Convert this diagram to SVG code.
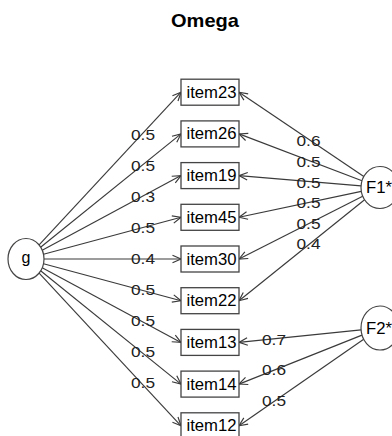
<svg xmlns="http://www.w3.org/2000/svg" width="392" height="436" viewBox="0 0 392 436">
<style>
.bg{fill:#fff}
.box{fill:#fff;stroke:#444;stroke-width:1.3}
.lat{fill:#fff;stroke:#444;stroke-width:1.2}
.edge{stroke:#3a3a3a;stroke-width:1.15;fill:none;marker-end:url(#arr)}
.t{font-family:"Liberation Sans",Arial,sans-serif;font-size:16px;fill:#000;text-anchor:middle}
.lab{font-family:"Liberation Sans",Arial,sans-serif;font-size:15px;fill:#222;text-anchor:middle}
.title{font-family:"Liberation Sans",Arial,sans-serif;font-size:18.5px;font-weight:bold;fill:#000;text-anchor:middle}
</style>
<defs>
<marker id="arr" viewBox="-10 -5 12 10" refX="0" refY="0" markerWidth="12" markerHeight="10" markerUnits="userSpaceOnUse" orient="auto">
<path d="M-8.5,-3.8 L0,0 L-8.5,3.8" fill="none" stroke="#3a3a3a" stroke-width="1.15"/>
</marker>
</defs>
<rect class="bg" x="0" y="0" width="392" height="436"/>
<text class="title" x="205" y="26.7" textLength="68" lengthAdjust="spacingAndGlyphs">Omega</text>
<g id="connectors">
<path class="edge" d="M38.9,245.1 L181,92.2"/>
<path class="edge" d="M40.6,247.2 L181,133.9"/>
<path class="edge" d="M42.2,250.3 L181,175.6"/>
<path class="edge" d="M43.5,254.3 L181,217.3"/>
<path class="edge" d="M44,259 L181,259"/>
<path class="edge" d="M43.5,263.7 L181,300.7"/>
<path class="edge" d="M42.2,267.7 L181,342.4"/>
<path class="edge" d="M40.6,270.8 L181,384.1"/>
<path class="edge" d="M38.9,272.9 L181,425.8"/>
<path class="edge" d="M363.8,176.5 L239,92.2"/>
<path class="edge" d="M362,180.7 L239,133.9"/>
<path class="edge" d="M361,185.9 L239,175.6"/>
<path class="edge" d="M361.3,191.4 L239,217.3"/>
<path class="edge" d="M362.7,196.3 L239,259"/>
<path class="edge" d="M364.6,199.8 L239,300.7"/>
<path class="edge" d="M361.1,329.9 L239,342.4"/>
<path class="edge" d="M362,335.1 L239,384.1"/>
<path class="edge" d="M363.7,339.3 L239,425.8"/>
<g id="edge-labels">
<text class="lab" x="143" y="140.2" textLength="24" lengthAdjust="spacingAndGlyphs">0.5</text>
<text class="lab" x="143" y="171.2" textLength="24" lengthAdjust="spacingAndGlyphs">0.5</text>
<text class="lab" x="143" y="202.2" textLength="24" lengthAdjust="spacingAndGlyphs">0.3</text>
<text class="lab" x="143" y="233.2" textLength="24" lengthAdjust="spacingAndGlyphs">0.5</text>
<text class="lab" x="143" y="264.2" textLength="24" lengthAdjust="spacingAndGlyphs">0.4</text>
<text class="lab" x="143" y="295.2" textLength="24" lengthAdjust="spacingAndGlyphs">0.5</text>
<text class="lab" x="143" y="326.2" textLength="24" lengthAdjust="spacingAndGlyphs">0.5</text>
<text class="lab" x="143" y="357.2" textLength="24" lengthAdjust="spacingAndGlyphs">0.5</text>
<text class="lab" x="143" y="388.2" textLength="24" lengthAdjust="spacingAndGlyphs">0.5</text>
<text class="lab" x="308.5" y="145.7" textLength="24" lengthAdjust="spacingAndGlyphs">0.6</text>
<text class="lab" x="308.5" y="166.7" textLength="24" lengthAdjust="spacingAndGlyphs">0.5</text>
<text class="lab" x="308.5" y="187.7" textLength="24" lengthAdjust="spacingAndGlyphs">0.5</text>
<text class="lab" x="308.5" y="208.2" textLength="24" lengthAdjust="spacingAndGlyphs">0.5</text>
<text class="lab" x="308.5" y="228.7" textLength="24" lengthAdjust="spacingAndGlyphs">0.5</text>
<text class="lab" x="308.5" y="249.2" textLength="24" lengthAdjust="spacingAndGlyphs">0.4</text>
<text class="lab" x="274" y="345.2" textLength="24" lengthAdjust="spacingAndGlyphs">0.7</text>
<text class="lab" x="274" y="375.2" textLength="24" lengthAdjust="spacingAndGlyphs">0.6</text>
<text class="lab" x="274" y="406.2" textLength="24" lengthAdjust="spacingAndGlyphs">0.5</text>
</g>
</g>
<g id="g"><ellipse class="lat" cx="26" cy="259" rx="18" ry="20.5"/><text class="t" x="26" y="262.5">g</text></g>
<g id="F1"><ellipse class="lat" cx="380" cy="187.5" rx="19" ry="21"/><text class="t" x="379" y="193" textLength="26" lengthAdjust="spacingAndGlyphs">F1*</text></g>
<g id="F2"><ellipse class="lat" cx="380" cy="328" rx="19" ry="22"/><text class="t" x="379" y="333.5" textLength="26" lengthAdjust="spacingAndGlyphs">F2*</text></g>
<g id="item23"><rect class="box" x="181" y="79.2" width="58" height="26"/><text class="t" x="211.5" y="97.7" textLength="50" lengthAdjust="spacingAndGlyphs">item23</text></g>
<g id="item26"><rect class="box" x="181" y="120.9" width="58" height="26"/><text class="t" x="211.5" y="139.4" textLength="50" lengthAdjust="spacingAndGlyphs">item26</text></g>
<g id="item19"><rect class="box" x="181" y="162.6" width="58" height="26"/><text class="t" x="211.5" y="181.1" textLength="50" lengthAdjust="spacingAndGlyphs">item19</text></g>
<g id="item45"><rect class="box" x="181" y="204.3" width="58" height="26"/><text class="t" x="211.5" y="222.8" textLength="50" lengthAdjust="spacingAndGlyphs">item45</text></g>
<g id="item30"><rect class="box" x="181" y="246" width="58" height="26"/><text class="t" x="211.5" y="264.5" textLength="50" lengthAdjust="spacingAndGlyphs">item30</text></g>
<g id="item22"><rect class="box" x="181" y="287.7" width="58" height="26"/><text class="t" x="211.5" y="306.2" textLength="50" lengthAdjust="spacingAndGlyphs">item22</text></g>
<g id="item13"><rect class="box" x="181" y="329.4" width="58" height="26"/><text class="t" x="211.5" y="347.9" textLength="50" lengthAdjust="spacingAndGlyphs">item13</text></g>
<g id="item14"><rect class="box" x="181" y="371.1" width="58" height="26"/><text class="t" x="211.5" y="389.6" textLength="50" lengthAdjust="spacingAndGlyphs">item14</text></g>
<g id="item12"><rect class="box" x="181" y="412.8" width="58" height="26"/><text class="t" x="211.5" y="431.3" textLength="50" lengthAdjust="spacingAndGlyphs">item12</text></g>
</svg>
